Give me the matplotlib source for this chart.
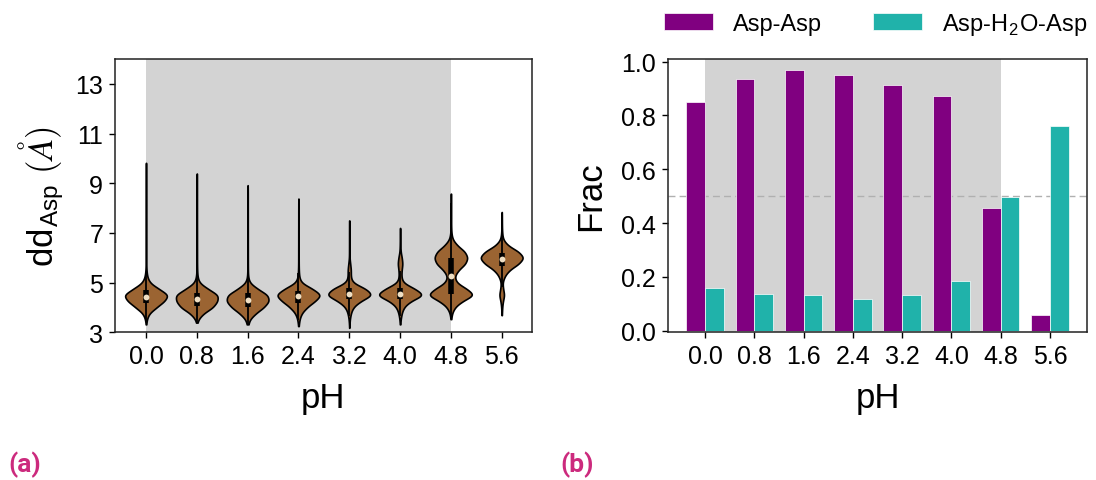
import numpy as np
import matplotlib
matplotlib.use("Agg")
import matplotlib.pyplot as plt

plt.rcParams['font.family'] = ['Liberation Sans', 'DejaVu Sans']
plt.rcParams['mathtext.fontset'] = 'cm'

# ---------------- data ----------------
ph_labels = ['0.0', '0.8', '1.6', '2.4', '3.2', '4.0', '4.8', '5.6']
n_acidic = 6   # shaded pH range: 0.0 .. 4.8

# (b) fractions
frac_asp_asp = [0.849, 0.934, 0.970, 0.951, 0.915, 0.874, 0.456, 0.060]
frac_asp_h2o_asp = [0.158, 0.137, 0.133, 0.117, 0.133, 0.186, 0.497, 0.760]
frac_ref = 0.5

# (a) distance distributions, as histograms
dd_bins = [3.25, 3.50, 3.75, 4.00, 4.25, 4.50, 4.75, 5.00, 5.25, 5.50,
           5.75, 6.00, 6.25, 6.50, 6.75, 7.00, 7.25, 7.50, 7.75, 8.00,
           8.25, 8.50, 8.75, 9.00, 9.25, 9.50, 9.75]
dd_ph00 = [0.5, 3, 12, 45, 80, 100, 55, 15, 5, 2, 1.2, 1, 0.9, 0.9, 0.8, 0.8,
           0.8, 0.7, 0.7, 0.7, 0.6, 0.6, 0.6, 0.5, 0.5, 0.5, 0.5]
dd_ph08 = [0, 5, 28, 75, 95, 100, 50, 10, 3, 1.5, 1, 0.9, 0.9, 0.8, 0.8, 0.8,
           0.7, 0.7, 0.7, 0.6, 0.6, 0.6, 0.5, 0.5, 0.5, 0, 0]
dd_ph16 = [2, 8, 35, 75, 100, 95, 45, 8, 2, 1.2, 1, 0.9, 0.9, 0.8, 0.8, 0.8,
           0.7, 0.7, 0.7, 0.6, 0.6, 0.6, 0.5, 0, 0, 0, 0]
dd_ph24 = [1, 4, 12, 35, 70, 100, 60, 10, 3, 1.5, 1, 0.9, 0.9, 0.8, 0.8, 0.8,
           0.7, 0.7, 0.7, 0.6, 0.6, 0, 0, 0, 0, 0, 0]
dd_ph32 = [0.5, 2, 6, 15, 45, 100, 70, 12, 6, 7, 4, 1, 0.9, 0.8, 0.8, 0.8,
           0.7, 0.7, 0, 0, 0, 0, 0, 0, 0, 0, 0]
dd_ph40 = [0.5, 2, 6, 14, 40, 100, 60, 10, 5, 6, 10, 7, 2, 1.2, 0.9, 0.8,
           0, 0, 0, 0, 0, 0, 0, 0, 0, 0, 0]
dd_ph48 = [0, 1, 4, 15, 45, 100, 65, 22, 14, 30, 60, 70, 58, 25, 6, 2,
           1, 0.9, 0.8, 0.8, 0.7, 0.7, 0, 0, 0, 0, 0]
dd_ph56 = [0, 0, 1, 2, 5, 12, 6, 3, 12, 32, 75, 100, 75, 25, 5, 2,
           1, 0.8, 0.7, 0, 0, 0, 0, 0, 0, 0, 0]
dd_counts = [dd_ph00, dd_ph08, dd_ph16, dd_ph24, dd_ph32, dd_ph40, dd_ph48, dd_ph56]
dd_min = [3.32, 3.39, 3.32, 3.25, 3.18, 3.32, 3.53, 3.69]
dd_max = [9.82, 9.39, 8.92, 8.38, 7.50, 7.20, 8.58, 7.84]

# ---------------- styles ----------------
violin_color = '#9B6432'
purple = '#800080'
teal = '#20B2AA'
shade = '#D3D3D3'
panel_color = '#CC2A7D'


def kde_profile(bins, counts, lo, hi, h=0.15, n=500):
    y = np.linspace(lo, hi, n)
    b = np.asarray(bins, float)[:, None]
    c = np.asarray(counts, float)[:, None]
    d = (c * np.exp(-0.5 * ((y[None, :] - b) / h) ** 2)).sum(axis=0)
    return y, d


fig = plt.figure(figsize=(10.96, 4.81), dpi=100)
W, H = 1096, 481
ax1 = fig.add_axes([115 / W, 147.7 / H, 416.7 / W, 273.3 / H])
ax2 = fig.add_axes([668 / W, 147.7 / H, 419 / W, 273.3 / H])

# ---------------- (a) violins ----------------
x = np.arange(len(ph_labels))
ax1.axvspan(0, n_acidic, color=shade, lw=0, zorder=0)
half = 0.41
for i, (cnt, lo, hi) in enumerate(zip(dd_counts, dd_min, dd_max)):
    y, d = kde_profile(dd_bins, cnt, lo, hi)
    w = d / d.max() * half
    ax1.fill_betweenx(y, i - w, i + w, facecolor=violin_color,
                      edgecolor='black', lw=1.2, zorder=2)
    cdf = np.concatenate([[0], np.cumsum(0.5 * (d[1:] + d[:-1]) * np.diff(y))])
    cdf /= cdf[-1]
    q1, med, q3 = np.interp([0.25, 0.5, 0.75], cdf, y)
    iqr = q3 - q1
    wl = max(lo, q1 - 1.5 * iqr)
    wh = min(hi, q3 + 1.5 * iqr)
    ax1.vlines(i, wl, wh, color='black', lw=1.3, zorder=3)
    ax1.vlines(i, q1, q3, color='black', lw=4.0, zorder=4)
    ax1.plot(i, med, 'o', ms=4.2, color='#EFDFC4', mec='none', zorder=5)

ax1.set_xlim(-0.61, 7.59)
ax1.set_ylim(3, 14)
ax1.set_yticks([3, 5, 7, 9, 11, 13])
ax1.set_xticks(x)
ax1.set_xticklabels(ph_labels)
ax1.set_xlabel('pH', fontsize=25, labelpad=9)
ax1.set_ylabel(r'dd$_\mathregular{Asp}$ $(\AA)$', fontsize=25, labelpad=6)

# ---------------- (b) bars ----------------
bw = 0.38
ax2.axvspan(0, n_acidic, color=shade, lw=0, zorder=0)
b1 = ax2.bar(x - bw / 2, frac_asp_asp, bw, color=purple, edgecolor='white',
             lw=0.5, zorder=2, label='Asp-Asp')
b2 = ax2.bar(x + bw / 2, frac_asp_h2o_asp, bw, color=teal, edgecolor='white',
             lw=0.5, zorder=2, label=r'Asp-H$_\mathregular{2}$O-Asp')
ax2.axhline(frac_ref, color='#B0B0B0', ls='--', lw=1.0, dashes=(5, 3), zorder=1)
ax2.set_xlim(-0.75, 7.75)
ax2.set_ylim(-0.006, 1.01)
ax2.set_yticks([0.0, 0.2, 0.4, 0.6, 0.8, 1.0])
ax2.set_yticklabels(['0.0', '0.2', '0.4', '0.6', '0.8', '1.0'])
ax2.set_xticks(x)
ax2.set_xticklabels(ph_labels)
ax2.set_xlabel('pH', fontsize=25, labelpad=9)
ax2.set_ylabel('Frac', fontsize=25, labelpad=10)

for ax in (ax1, ax2):
    ax.tick_params(labelsize=18, length=4.5, width=1.0, direction='out', pad=4)
    for s in ax.spines.values():
        s.set_linewidth(1.1)
        s.set_color('#222222')
        s.set_zorder(6)

fig.legend(handles=[b1, b2], loc='center left',
           bbox_to_anchor=(664 / W, 1 - 24.5 / H), ncol=2, frameon=False,
           fontsize=17, handlelength=2.07, handleheight=0.72,
           handletextpad=0.85, columnspacing=2.16, borderpad=0,
           borderaxespad=0)

fig.text(8 / W, 1 - 465 / H, '(a)', color=panel_color, fontsize=19,
         fontweight='bold', family=['Roboto', 'DejaVu Sans'], va='center')
fig.text(560 / W, 1 - 465 / H, '(b)', color=panel_color, fontsize=19,
         fontweight='bold', family=['Roboto', 'DejaVu Sans'], va='center')

fig.savefig('out.png', dpi=100)
